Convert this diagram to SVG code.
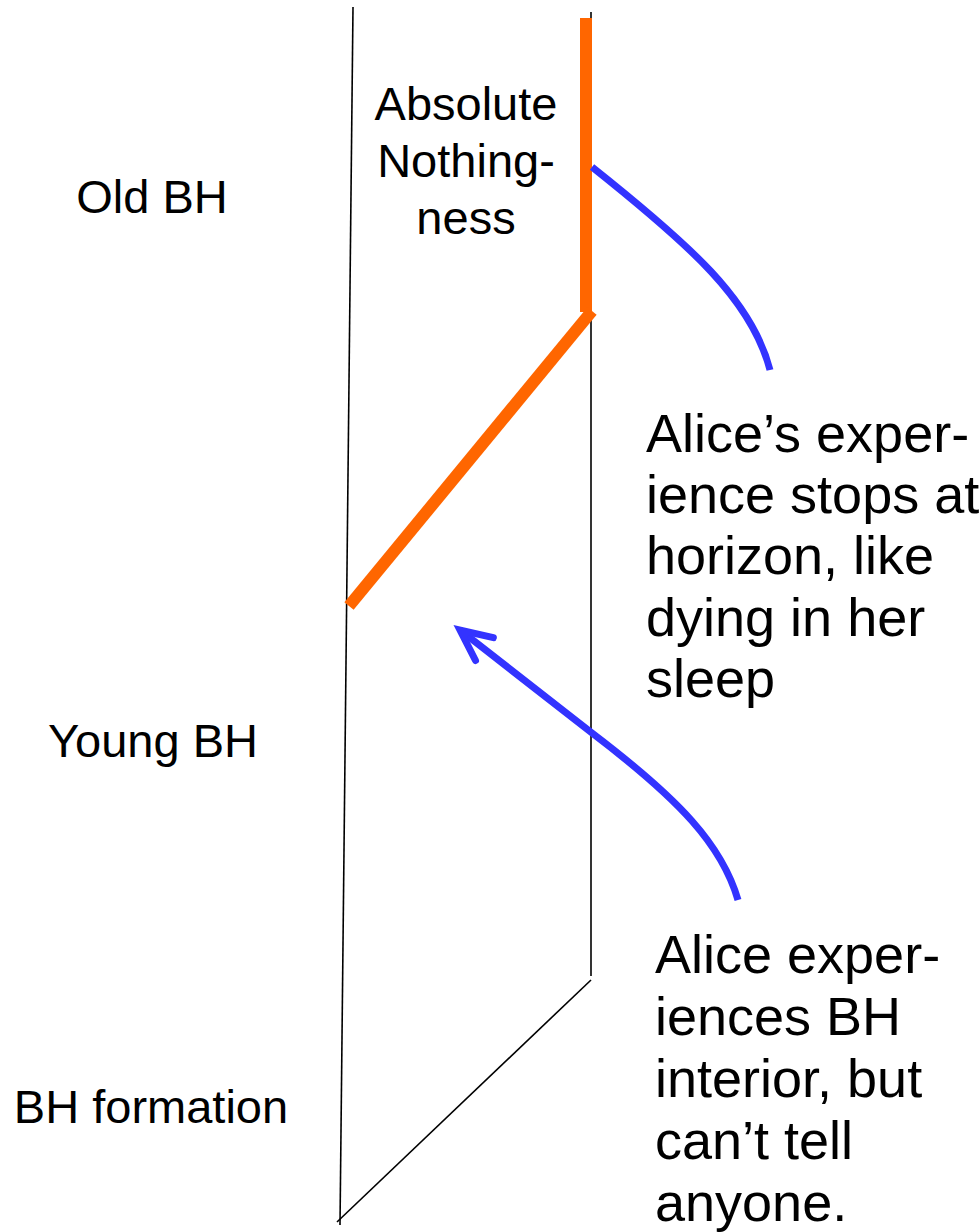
<svg xmlns="http://www.w3.org/2000/svg" width="980" height="1232" viewBox="0 0 980 1232">
<style>
text{font-family:"Liberation Sans",Arial,sans-serif;fill:#000}
.lbl{font-size:47px;text-anchor:middle}
.note{font-size:54px}
.thin{stroke:#000;stroke-width:1.6;fill:none}
.orange{stroke:#FF6600;stroke-width:12;fill:none;stroke-linecap:butt}
.blue{stroke:#3333FF;stroke-width:7;fill:none}
</style>
<defs>
<marker id="arrow" markerUnits="userSpaceOnUse" markerWidth="60" markerHeight="60" refX="0" refY="0" orient="auto" overflow="visible">
<path d="M -31 -14.5 L 0 0 L -31 14.5" fill="none" stroke="#3333FF" stroke-width="7" stroke-linecap="round" stroke-linejoin="miter"/>
</marker>
</defs>
<rect width="980" height="1232" fill="#fff"/>
<g id="connectors">
<line class="thin" x1="353" y1="7" x2="340" y2="1225"/>
<line class="thin" x1="591" y1="12" x2="591" y2="976"/>
<line class="thin" x1="591" y1="980" x2="337" y2="1222"/>
<line class="orange" x1="586" y1="18" x2="586" y2="312"/>
<line class="orange" x1="592" y1="311" x2="349" y2="606"/>
<path class="blue" d="M 592 167 C 690 245, 752 300, 770 370"/>
<path class="blue" d="M 738 900 C 722 845, 680 800, 592 733 L 460 630" marker-end="url(#arrow)"/>
</g>
<g id="old-bh"><text class="lbl" x="152" y="213">Old BH</text></g>
<g id="young-bh"><text class="lbl" x="153" y="757">Young BH</text></g>
<g id="bh-formation"><text class="lbl" x="151" y="1123">BH formation</text></g>
<g id="absolute-nothingness">
<text class="lbl" x="466" y="120">Absolute</text>
<text class="lbl" x="466" y="177">Nothing-</text>
<text class="lbl" x="466" y="234">ness</text>
</g>
<g id="note-horizon">
<text class="note" x="646" y="452">Alice’s exper-</text>
<text class="note" x="646" y="513">ience stops at</text>
<text class="note" x="646" y="574">horizon, like</text>
<text class="note" x="646" y="636">dying in her</text>
<text class="note" x="646" y="697">sleep</text>
</g>
<g id="note-interior">
<text class="note" x="655" y="973">Alice exper-</text>
<text class="note" x="655" y="1035">iences BH</text>
<text class="note" x="655" y="1097">interior, but</text>
<text class="note" x="655" y="1159">can’t tell</text>
<text class="note" x="655" y="1221">anyone.</text>
</g>
</svg>
